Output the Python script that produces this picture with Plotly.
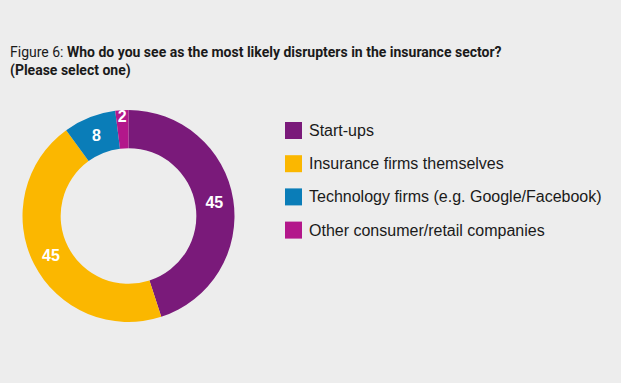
import plotly.graph_objects as go

categories = ["Start-ups", "Insurance firms themselves",
              "Technology firms (e.g. Google/Facebook)", "Other consumer/retail companies"]
values = [45, 45, 8, 2]
colors = ["#7A1A7A", "#FBB700", "#0A7DB8", "#B3178B"]

W, H = 621, 383
BG = "#EDEDED"
FONT = "Liberation Sans, Arial, sans-serif"
TITLE_FONT = "Roboto, Liberation Sans, Arial, sans-serif"

fig = go.Figure()
fig.add_trace(go.Pie(
    labels=categories, values=values, hole=0.64, sort=False,
    direction="clockwise", rotation=0,
    marker=dict(colors=colors, line=dict(width=0)),
    textinfo="value", textposition="inside", insidetextorientation="horizontal",
    textfont=dict(family=FONT, size=16, color="white", weight="bold"),
    showlegend=False, hoverinfo="none",
    domain=dict(x=[22 / W, 235 / W], y=[1 - 322 / H, 1 - 110 / H]),
))

# manual legend
shapes = []
annotations = []
row0, step = 130.5, 33.2
for i, (lab, col) in enumerate(zip(categories, colors)):
    yc = row0 + i * step
    shapes.append(dict(type="rect", xref="paper", yref="paper",
                       x0=285 / W, x1=302 / W, y0=1 - (yc + 8.5) / H, y1=1 - (yc - 8.5) / H,
                       fillcolor=col, line=dict(width=0)))
    annotations.append(dict(text=lab, xref="paper", yref="paper", x=307 / W, y=1 - yc / H,
                            xanchor="left", yanchor="middle", showarrow=False,
                            font=dict(family=FONT, size=16, color="#1a1a1a")))

annotations.append(dict(
    text="Figure 6: <b>Who do you see as the most likely disrupters in the insurance sector?<br>(Please select one)</b>",
    xref="paper", yref="paper", x=8 / W, y=1 - 42 / H, xanchor="left", yanchor="top",
    align="left", showarrow=False,
    font=dict(family=TITLE_FONT, size=14, color="#1a1a1a")))

fig.update_layout(
    width=W, height=H, paper_bgcolor=BG, plot_bgcolor=BG,
    margin=dict(l=0, r=0, t=0, b=0),
    shapes=shapes, annotations=annotations,
    uniformtext=dict(minsize=16, mode="show"),
)
fig.write_html("out.html", config={"displayModeBar": False})

with open("out.html", encoding="utf-8") as f:
    html = f.read()
html = html.replace("<head>", "<head><style>html,body{margin:0;padding:0;background:#EDEDED;}</style>", 1)
with open("out.html", "w", encoding="utf-8") as f:
    f.write(html)
